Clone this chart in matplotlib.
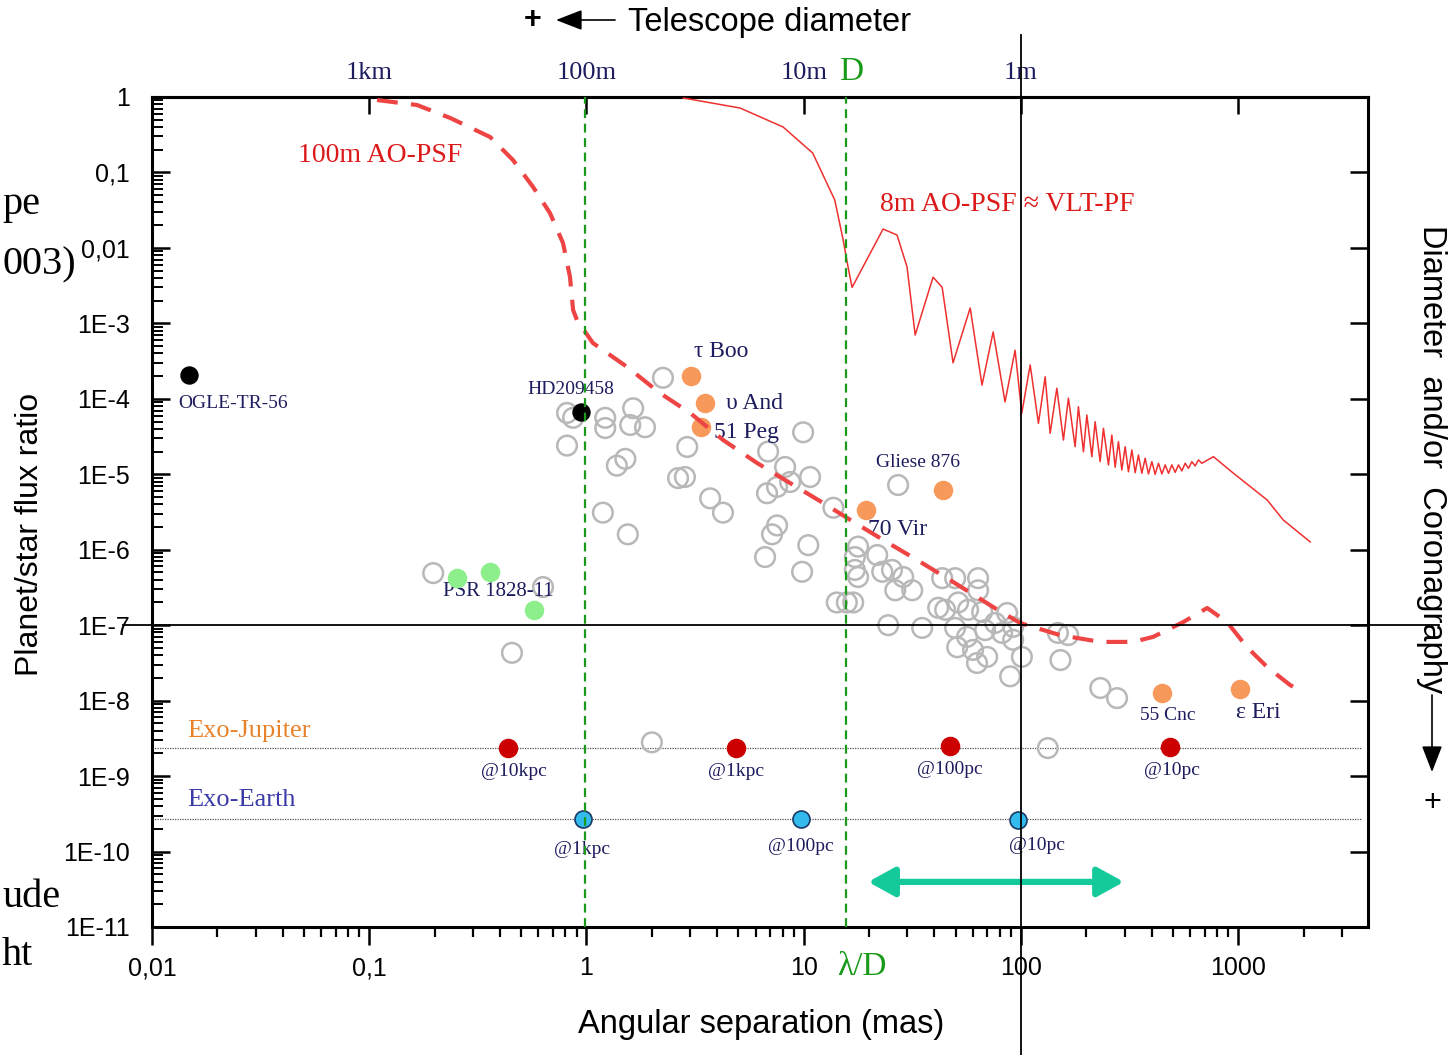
import matplotlib
matplotlib.use('Agg')
import matplotlib.pyplot as plt
from matplotlib.ticker import FixedLocator, LogLocator, NullLocator, NullFormatter

SERIF = ['Liberation Serif', 'DejaVu Serif']
SANS = ['Liberation Sans', 'DejaVu Sans']
plt.rcParams['font.family'] = SANS
NAVY = '#1c1c5e'

# ---------------- data ----------------
x_ticks = [0.01, 0.1, 1, 10, 100, 1000]
x_tick_labels = ['0,01', '0,1', '1', '10', '100', '1000']
y_ticks = [1, 1e-1, 1e-2, 1e-3, 1e-4, 1e-5, 1e-6, 1e-7, 1e-8, 1e-9, 1e-10, 1e-11]
y_tick_labels = ['1', '0,1', '0,01', '1E-3', '1E-4', '1E-5', '1E-6', '1E-7',
                 '1E-8', '1E-9', '1E-10', '1E-11']
top_tick_pos = [0.1, 1, 10, 100, 1000]
top_tick_labels = ['1km', '100m', '10m', '1m', '']

# 100m AO-PSF (dashed)
x100 = [0.1086, 0.166, 0.236, 0.360, 0.459, 0.568, 0.679, 0.780, 0.840, 0.868,
        0.905, 1.07, 1.54, 2.18, 3.0, 4.26, 6.10, 8.65, 12.3, 16.4, 23.2, 33.3,
        47.2, 74.5, 99, 151, 232, 329, 406, 559, 720, 889, 1099, 1360, 1734, 1990]
y100 = [0.912, 0.783, 0.527, 0.295, 0.146, 0.0641, 0.0290, 0.0116, 4.1e-3, 1.5e-3,
        1.1e-3, 5.5e-4, 2.64e-4, 1.19e-4, 6.5e-5, 2.84e-5, 1.41e-5, 7.66e-6, 4.16e-6,
        2.48e-6, 1.35e-6, 7.3e-7, 3.96e-7, 1.74e-7, 1.07e-7, 7.4e-8, 6.0e-8, 6.0e-8,
        7.0e-8, 1.10e-7, 1.69e-7, 1.10e-7, 5.1e-8, 2.79e-8, 1.61e-8, 1.30e-8]

# 8m AO-PSF ~ VLT-PF (thin solid)
x8 = [2.79, 5.09, 8.04, 11.0, 13.9, 15.2, 16.0, 16.7, 23.2, 26.9, 29.9, 32.6, 39.4,
      43.4, 48.7, 58.4, 66.2, 74.5, 84.5, 94.0,
      100.9, 110.3, 120.4, 129.3, 136.3, 146.3, 156.9, 165.4, 177.6, 183.9,
      194.0, 201.1, 212.1, 219.6, 231.5, 239.8, 252.9, 262.1, 271.5, 281.1,
      291.4, 301.8, 312.6, 324.1, 335.6, 347.5, 360.2, 373.1, 386.4, 400.6,
      414.9, 429.7, 445.5, 461.3, 477.8, 495.3, 512.9, 531.2, 550.7, 570.2,
      590.5, 612.2, 633.9, 656.5, 680.6,
      769.6, 948, 1360, 1612, 2146]
y8 = [0.97, 0.715, 0.40, 0.181, 0.0431, 0.0127, 5.6e-3, 3.0e-3, 0.0178, 0.0148,
      5.6e-3, 7.0e-4, 4.1e-3, 3.0e-3, 3.0e-4, 1.6e-3, 1.52e-4, 7.7e-4, 9.1e-5, 4.4e-4,
      6.43e-5, 2.81e-4, 4.73e-5, 1.96e-4, 3.49e-5, 1.38e-4, 2.84e-5, 1.02e-4, 2.32e-5, 7.86e-5,
      1.99e-5, 6.10e-5, 1.71e-5, 4.97e-5, 1.47e-5, 4.06e-5, 1.33e-5, 3.31e-5, 1.24e-5, 2.70e-5,
      1.14e-5, 2.32e-5, 1.08e-5, 2.10e-5, 1.05e-5, 1.80e-5, 1.03e-5, 1.63e-5, 1.01e-5, 1.47e-5,
      9.98e-6, 1.40e-5, 1.01e-5, 1.33e-5, 1.03e-5, 1.33e-5, 1.06e-5, 1.33e-5, 1.11e-5, 1.40e-5,
      1.20e-5, 1.47e-5, 1.29e-5, 1.55e-5, 1.40e-5,
      1.71e-5, 1.04e-5, 4.56e-6, 2.48e-6, 1.27e-6]

# known exoplanets (grey open circles)
gray_x = [0.197, 0.631, 0.454, 0.814, 0.868, 0.814, 1.22, 1.22, 1.64, 1.59, 1.86, 2.25,
          2.91, 1.51, 1.38, 2.64, 2.84, 3.71, 4.25, 1.19, 1.55, 9.94, 6.86, 8.21, 8.66,
          10.7, 6.78, 7.54, 7.54, 7.15, 6.64, 10.5, 9.83, 13.7, 14.2, 15.8, 16.9, 17.8,
          17.2, 17.2, 17.8, 21.8, 23.0, 25.5, 28.7, 26.4, 31.6, 24.5, 35.1, 27.2, 43.4,
          49.8, 63.5, 63.5, 41.6, 44.8, 51.4, 57.1, 66.3, 86.4, 76.1, 92.1, 81.9, 68.4,
          49.8, 56.5, 50.9, 60.2, 69.9, 62.8, 101, 89.2, 92.1, 148, 165, 152, 232, 277,
          133, 2.00]
gray_y = [4.9e-7, 3.2e-7, 4.3e-8, 6.5e-5, 5.6e-5, 2.4e-5, 5.6e-5, 4.1e-5, 7.5e-5, 4.5e-5,
          4.2e-5, 1.9e-4, 2.3e-5, 1.6e-5, 1.3e-5, 8.9e-6, 9.2e-6, 4.8e-6, 3.1e-6, 3.1e-6,
          1.6e-6, 3.6e-5, 2.0e-5, 1.25e-5, 7.9e-6, 9.2e-6, 5.6e-6, 6.8e-6, 2.1e-6, 1.6e-6,
          8.0e-7, 1.15e-6, 5.1e-7, 3.6e-6, 2.0e-7, 2.0e-7, 2.0e-7, 1.1e-6, 8.0e-7, 5.4e-7,
          4.35e-7, 8.5e-7, 5.1e-7, 5.4e-7, 4.35e-7, 2.9e-7, 2.9e-7, 1.0e-7, 9.2e-8, 7.2e-6,
          4.2e-7, 4.2e-7, 4.2e-7, 2.9e-7, 1.7e-7, 1.6e-7, 2.0e-7, 1.6e-7, 1.5e-7, 1.45e-7,
          1.07e-7, 9.5e-8, 7.9e-8, 8.6e-8, 9.2e-8, 7.0e-8, 5.1e-8, 4.7e-8, 3.8e-8, 3.15e-8,
          3.8e-8, 2.1e-8, 6.4e-8, 7.9e-8, 7.4e-8, 3.45e-8, 1.47e-8, 1.08e-8, 2.35e-9, 2.8e-9]

black_names = ['OGLE-TR-56', 'HD209458']
black_x = [0.0148, 0.944]
black_y = [2.1e-4, 6.7e-5]

orange_names = ['τ Boo', 'υ And', '51 Peg', '70 Vir', 'Gliese 876', '55 Cnc', 'ε Eri']
orange_x = [3.03, 3.52, 3.37, 19.4, 43.9, 447, 1021]
orange_y = [2.0e-4, 8.8e-5, 4.2e-5, 3.4e-6, 6.2e-6, 1.26e-8, 1.43e-8]

psr_name = 'PSR 1828-11'
green_x = [0.254, 0.36, 0.574]
green_y = [4.2e-7, 5.1e-7, 1.59e-7]

jup_level = 2.35e-9
earth_level = 2.7e-10
jup_names = ['@10kpc', '@1kpc', '@100pc', '@10pc']
jup_x = [0.435, 4.89, 47.2, 486]
jup_y = [2.35e-9, 2.35e-9, 2.5e-9, 2.43e-9]
earth_names = ['@1kpc', '@100pc', '@10pc']
earth_x = [0.964, 9.73, 97]
earth_y = [2.7e-10, 2.7e-10, 2.65e-10]

lambda_d_lines = [0.98, 15.7]
ref_x = 100
ref_y = 1e-7
arrow_range = [19.8, 298]
arrow_level = 3.96e-11

# ---------------- figure ----------------
W, H = 1448, 1055
fig = plt.figure(figsize=(W / 100, H / 100), dpi=100)
ax = fig.add_axes([152 / W, 1 - 927 / H, (1368 - 152) / W, (927 - 97) / H])
ax.set_xscale('log')
ax.set_yscale('log')
ax.set_xlim(0.01, 3960)
ax.set_ylim(1e-11, 1)

ax.set_xticks(x_ticks, labels=x_tick_labels)
ax.set_yticks(y_ticks, labels=y_tick_labels)
ax.xaxis.set_minor_locator(LogLocator(base=10, subs=range(2, 10), numticks=100))
ax.yaxis.set_minor_locator(LogLocator(base=10, subs=range(2, 10), numticks=100))
ax.xaxis.set_minor_formatter(NullFormatter())
ax.yaxis.set_minor_formatter(NullFormatter())
ax.tick_params(axis='x', which='major', direction='out', length=13, width=1.8,
               pad=8, labelsize=18, top=False)
ax.tick_params(axis='x', which='minor', direction='out', length=7, width=1.6, top=False)
ax.tick_params(axis='y', which='major', direction='in', length=13, width=1.8,
               pad=16, labelsize=18, left=True, right=True)
ax.tick_params(axis='y', which='minor', direction='in', length=8, width=1.4,
               left=True, right=False)
for s in ax.spines.values():
    s.set_linewidth(2.2)

sec = ax.secondary_xaxis('top')
sec.set_xticks(top_tick_pos, labels=top_tick_labels)
sec.xaxis.set_minor_locator(NullLocator())
sec.tick_params(direction='in', length=12, width=1.8, pad=9, labelsize=19,
                labelcolor=NAVY)
for t in sec.get_xticklabels():
    t.set_fontfamily(SERIF)
sec.spines['top'].set_linewidth(2.2)

# reference lines
ax.hlines([jup_level, earth_level], 0.01, 3700, colors='#555555',
          linestyles=(0, (1, 1)), linewidth=0.9, zorder=1)
for xv in lambda_d_lines:
    ax.axvline(xv, color='#1a9a1a', linestyle=(0, (4, 2.5)), linewidth=1.6, zorder=6)
ax.axvline(ref_x, ymin=-0.154, ymax=1.075, color='black', linewidth=1.3,
           clip_on=False, zorder=6)
ax.axhline(ref_y, xmin=-0.024, xmax=1.058, color='black', linewidth=1.3,
           clip_on=False, zorder=6)

# curves
ax.plot(x100, y100, color='#ee4444', linewidth=3.0, dashes=(5, 3.2), zorder=4)
ax.plot(x8, y8, color='#ee3030', linewidth=1.1, zorder=4)

# points
ax.scatter(gray_x, gray_y, s=200, facecolors='none', edgecolors='#b8b8b8',
           linewidths=1.8, zorder=2)
ax.scatter(black_x, black_y, s=150, color='black', zorder=3.5)
ax.scatter(orange_x, orange_y, s=170, color='#f8995c', zorder=3.5)
ax.scatter(green_x, green_y, s=170, color='#8cef8c', zorder=3.5)
ax.scatter(jup_x, jup_y, s=170, color='#cc0000', zorder=3.5)
ax.scatter(earth_x, earth_y, s=150, color='#33bbee', edgecolors='#1a3a66',
           linewidths=1.2, zorder=3.5)

# point labels
def lab(text, xy, off, ha='center', size=14, color=NAVY):
    ax.annotate(text, xy=xy, xytext=off, textcoords='offset points', ha=ha,
                va='center', fontsize=size, color=color, family=SERIF, zorder=3)

lab(black_names[0], (black_x[0], black_y[0]), (-8, -21), ha='left', size=14)
lab(black_names[1], (black_x[1], black_y[1]), (-7, 16), size=14)
lab(orange_names[0], (orange_x[0], orange_y[0]), (22, 18), size=17)
lab(orange_names[1], (orange_x[1], orange_y[1]), (15, 0), ha='left', size=17)
lab(orange_names[2], (orange_x[2], orange_y[2]), (9, -4), ha='left', size=17)
lab(orange_names[3], (orange_x[3], orange_y[3]), (1.5, -14), ha='left', size=17)
lab(orange_names[4], (orange_x[4], orange_y[4]), (-18, 20), size=14)
lab(orange_names[5], (orange_x[5], orange_y[5]), (4, -16), size=14)
lab(orange_names[6], (orange_x[6], orange_y[6]), (13, -17), size=17)
lab(psr_name, (green_x[1], green_y[1]), (6, -14), size=15)
for name, xv, yv, dx in zip(jup_names, jup_x, jup_y, [4, 0, 0, 1.5]):
    lab(name, (xv, yv), (dx, -17), size=14)
for name, xv, yv, dx, dy in zip(earth_names, earth_x, earth_y, [-1, 0, 14], [-22, -20, -19]):
    lab(name, (xv, yv), (dx, dy), size=14)

ax.text(0.0288, 0.236, 'Exo-Jupiter', transform=ax.transAxes, fontsize=19,
        color='#e8822a', family=SERIF, ha='left', va='center')
ax.text(0.0288, 0.153, 'Exo-Earth', transform=ax.transAxes, fontsize=19,
        color='#3a3aa8', family=SERIF, ha='left', va='center')
ax.text(0.120, 0.930, '100m AO-PSF', transform=ax.transAxes, fontsize=20,
        color='#dd1a1a', family=SERIF, ha='left', va='center')
ax.text(0.5987, 0.870, '8m AO-PSF ≈ VLT-PF', transform=ax.transAxes, fontsize=20,
        color='#dd1a1a', family=SERIF, ha='left', va='center', zorder=3)

# teal double arrow
ax.annotate('', xy=(arrow_range[1], arrow_level), xytext=(arrow_range[0], arrow_level),
            arrowprops=dict(arrowstyle='<|-|>,head_length=1.0,head_width=0.55',
                            color='#14c99a', lw=4.5, mutation_scale=16,
                            shrinkA=0, shrinkB=0), zorder=5)

# figure texts
def ft(px, py, s, **kw):
    fig.text(px / W, 1 - py / H, s, **kw)

ft(851, 72, 'D', fontsize=24, color='#1a9a1a', family=SERIF, ha='center', va='center')
ft(862, 967, 'λ/D', fontsize=24, color='#1a9a1a', family=SERIF, ha='center', va='center')
ft(533, 20, '+', fontsize=22, fontweight='bold', ha='center', va='center')
ax.annotate('', xy=(556 / W, 1 - 20 / H), xytext=(615 / W, 1 - 20 / H),
            xycoords='figure fraction', textcoords='figure fraction',
            arrowprops=dict(arrowstyle='-|>,head_length=0.9,head_width=0.35',
                            color='black', lw=1.2, mutation_scale=18,
                            shrinkA=0, shrinkB=0), annotation_clip=False)
ft(628, 22, 'Telescope diameter', fontsize=23.5, ha='left', va='center')
ft(1432, 225, 'Diameter  and/or  Coronagraphy', fontsize=23.5, rotation=270,
   ha='center', va='top')
ax.annotate('', xy=(1432 / W, 1 - 772 / H), xytext=(1432 / W, 1 - 695 / H),
            xycoords='figure fraction', textcoords='figure fraction',
            arrowprops=dict(arrowstyle='-|>,head_length=0.9,head_width=0.35',
                            color='black', lw=1.2, mutation_scale=18,
                            shrinkA=0, shrinkB=0), annotation_clip=False)
ft(1432, 803, '+', fontsize=22, ha='center', va='center')
ft(30, 534, 'Planet/star flux ratio', fontsize=23, rotation=90, ha='center', va='center',
   family=['Liberation Sans Narrow', 'Liberation Sans', 'DejaVu Sans'])
ft(761, 1025, 'Angular separation (mas)', fontsize=23.5, ha='center', va='center')

# fragments of surrounding slide text at the left edge
ft(2, 214, 'pe', fontsize=29, family=SERIF, ha='left', va='baseline')
ft(2, 274, '003)', fontsize=29, family=SERIF, ha='left', va='baseline')
ft(2, 907, 'ude', fontsize=29, family=SERIF, ha='left', va='baseline')
ft(2, 965, 'ht', fontsize=29, family=SERIF, ha='left', va='baseline')

fig.savefig('out.png', dpi=100)
